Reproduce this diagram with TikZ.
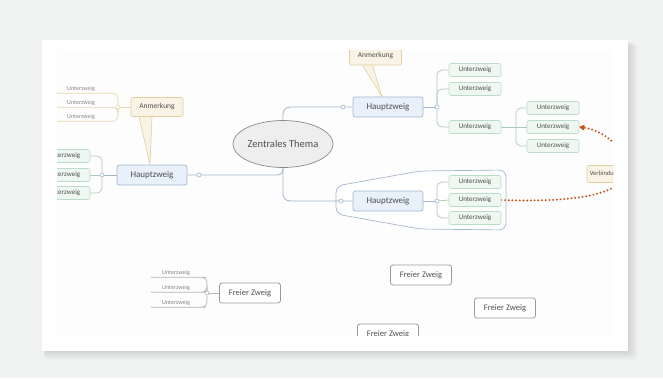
\documentclass[tikz,border=0pt]{standalone}
\usepackage{fontspec}
\setmainfont{Carlito}
\usetikzlibrary{arrows.meta,shapes.geometric}
\pgfdeclarelayer{bg}
\pgfdeclarelayer{edges}
\pgfsetlayers{bg,edges,main}

\definecolor{bgc}{HTML}{F1F2F2}
\definecolor{canvas}{HTML}{FDFDFD}
\definecolor{hzf}{HTML}{E8F0FA}
\definecolor{hzb}{HTML}{A3B8D0}
\definecolor{uzf}{HTML}{EEF7F1}
\definecolor{uzb}{HTML}{BCDCC8}
\definecolor{anf}{HTML}{F8F3E4}
\definecolor{anb}{HTML}{E0D09E}
\definecolor{frb}{HTML}{9A9A9A}
\definecolor{ctf}{HTML}{EEEEEE}
\definecolor{ctb}{HTML}{8A8A8A}
\definecolor{conn}{HTML}{A2B4CA}
\definecolor{subc}{HTML}{AFC8BA}
\definecolor{notec}{HTML}{E3D7AD}
\definecolor{leafc}{HTML}{B4B4B4}
\definecolor{rel}{HTML}{C2561E}
\definecolor{txt}{HTML}{505050}

\begin{document}
\begin{tikzpicture}[x=1pt,y=-1pt,
  every node/.style={text=txt,inner sep=0pt},
  central/.style={ellipse,draw=ctb,fill=ctf,line width=0.7pt,minimum width=93pt,minimum height=47pt,font=\fontsize{10.5}{11}\selectfont},
  mainbox/.style={draw=hzb,fill=hzf,line width=0.7pt,rounded corners=2.5pt,minimum width=70pt,minimum height=20pt,font=\fontsize{9}{10}\selectfont},
  subbox/.style={draw=uzb,fill=uzf,line width=0.6pt,rounded corners=2pt,minimum width=52pt,minimum height=13pt,font=\fontsize{7}{8}\selectfont},
  notebox/.style={draw=anb,fill=anf,line width=0.6pt,rounded corners=2pt,minimum width=52pt,minimum height=19pt,font=\fontsize{7.5}{8}\selectfont},
  freebox/.style={draw=frb,fill=white,line width=0.8pt,rounded corners=2.5pt,minimum width=61pt,minimum height=20pt,font=\fontsize{8.5}{9}\selectfont},
  leaf/.style={minimum width=50pt,minimum height=8pt,text=txt!70,font=\fontsize{6}{7}\selectfont},
  knob/.style={circle,draw=#1,fill=white,line width=0.6pt,minimum size=4pt},
  knob/.default=conn,
  conn/.style={draw=conn,line width=0.8pt},
  subconn/.style={draw=subc,line width=0.7pt,rounded corners=5pt},
  noteconn/.style={draw=notec,line width=0.7pt,rounded corners=5pt},
  leafconn/.style={draw=leafc,line width=0.7pt,rounded corners=5pt},
  tail/.style={fill=anf,draw=anb,line width=0.6pt,line join=round},
  relation/.style={draw=rel,line width=2.2pt,line cap=round,dash pattern=on 0pt off 3.7pt,
    -{Latex[length=6.5pt,width=6.5pt,round]}}
]
\useasboundingbox (0,0) rectangle (663,378);

% page, card with soft shadow, canvas
\begin{pgfonlayer}{bg}
  \fill[bgc] (0,0) rectangle (663,378);
  \foreach \s in {1,...,10}
    \fill[black,opacity=0.011,rounded corners=3pt] (42+\s*0.3,40+\s*0.5) rectangle (628+\s,351+\s*0.9);
  \fill[white] (42,40) rectangle (628,351);
  \fill[canvas] (57,50) rectangle (613,335);
\end{pgfonlayer}

\begin{scope}
\clip (57,50) rectangle (613,335);

% central topic
\node[central] (ct) at (283,144) {Zentrales Thema};

% main branches
\node[mainbox] (hzR) at (388,107) {Hauptzweig};
\node[mainbox] (hzB) at (388,201) {Hauptzweig};
\node[mainbox] (hzL) at (152,175) {Hauptzweig};

% notes
\node[notebox] (anT) at (375.5,55.5) {Anmerkung};
\node[notebox] (anL) at (157,107) {Anmerkung};

% sub branches, upper right
\node[subbox] (uR1) at (475,70) {Unterzweig};
\node[subbox] (uR2) at (475,89) {Unterzweig};
\node[subbox] (uR3) at (475,127) {Unterzweig};
\node[subbox] (uS1) at (553,108) {Unterzweig};
\node[subbox] (uS2) at (553,127) {Unterzweig};
\node[subbox] (uS3) at (553,146) {Unterzweig};

% sub branches, lower right
\node[subbox] (uB1) at (475,182) {Unterzweig};
\node[subbox] (uB2) at (475,200) {Unterzweig};
\node[subbox] (uB3) at (475,218) {Unterzweig};

% sub branches, left
\node[subbox] (uL1) at (64,156) {Unterzweig};
\node[subbox] (uL2) at (64,175) {Unterzweig};
\node[subbox] (uL3) at (64,193) {Unterzweig};

% children of the left note
\node[leaf] (lA1) at (81,89) {Unterzweig};
\node[leaf] (lA2) at (81,103) {Unterzweig};
\node[leaf] (lA3) at (81,117) {Unterzweig};

% free branches
\node[freebox] (fz1) at (250,293) {Freier Zweig};
\node[freebox] (fz2) at (421,275) {Freier Zweig};
\node[freebox] (fz3) at (505,308) {Freier Zweig};
\node[freebox] (fz4) at (388,334) {Freier Zweig};
\node[leaf] (lF1) at (176,273) {Unterzweig};
\node[leaf] (lF2) at (176,288) {Unterzweig};
\node[leaf] (lF3) at (176,303) {Unterzweig};

% collapse knobs
\node[knob] (kR) at (437,107) {};
\node[knob] (kB) at (437,201) {};
\node[knob] (kL) at (102,175) {};
\node[knob] (kC) at (199,175) {};
\node[knob] (kT) at (343,107) {};
\node[knob] (kD) at (341,201) {};
\node[knob=notec] (kA) at (118,107) {};
\node[knob=leafc] (kF) at (207,293) {};
\coordinate (jR3) at (516,127);

% relationship label
\node[draw=anb,fill=anf,line width=0.6pt,rounded corners=2pt,minimum width=36pt,minimum height=17pt,
      font=\fontsize{6.5}{7}\selectfont] (vb) at (605,174) {Verbindung};
\end{scope}

\begin{pgfonlayer}{edges}
\begin{scope}
\clip (57,50) rectangle (613,335);

% boundary around the lower main branch
\draw[draw=hzb,line width=0.7pt,fill=white,fill opacity=0.5,rounded corners=7pt]
  (336,200) -- (336,214) -- (420,229) -- (506,230) -- (506,170) -- (420,171) -- (336,186) -- cycle;

% central topic to main branches
\draw[conn,rounded corners=7pt] (ct.north) |- (hzR.west);
\draw[conn,rounded corners=7pt] (ct.south) |- (hzB.west);
\draw[conn,rounded corners=5pt] (ct.south) |- (hzL.east);

% main branches to sub branches
\draw[conn] (hzR.east) -- (kR);
\draw[subconn] (kR) |- (uR1.west);
\draw[subconn] (kR) |- (uR2.west);
\draw[subconn] (kR) |- (uR3.west);
\draw[subconn] (uR3.east) -- (jR3);
\draw[subconn] (jR3) |- (uS1.west);
\draw[subconn] (jR3) -- (uS2.west);
\draw[subconn] (jR3) |- (uS3.west);

\draw[conn] (hzB.east) -- (kB);
\draw[subconn] (kB) |- (uB1.west);
\draw[subconn] (kB) -- (uB2.west);
\draw[subconn] (kB) |- (uB3.west);

\draw[conn] (hzL.west) -- (kL);
\draw[subconn] (kL) |- (uL1.east);
\draw[subconn] (kL) -- (uL2.east);
\draw[subconn] (kL) |- (uL3.east);

% note children, underlined
\draw[noteconn] (anL.west) -- (kA);
\draw[noteconn] (kA) |- (lA1.south east) -- ++(-60,0);
\draw[noteconn] (kA) |- (lA2.south east) -- ++(-60,0);
\draw[noteconn] (kA) |- (lA3.south east) -- ++(-60,0);

% free branch children, underlined
\draw[leafconn] (fz1.west) -- (kF);
\draw[leafconn] (kF) |- (lF1.south east) -- (lF1.south west);
\draw[leafconn] (kF) |- (lF2.south east) -- (lF2.south west);
\draw[leafconn] (kF) |- (lF3.south east) -- (lF3.south west);

% callout tails of the notes
\draw[tail] ([xshift=-18pt]anL.south) -- ([xshift=-2pt]hzL.north) -- ([xshift=-5pt]anL.south);
\draw[tail] ([xshift=-13pt]anT.south) -- ([xshift=-6pt]hzR.north) -- ([xshift=-3pt]anT.south);

% relationship between two sub branches
\draw[relation] (uB2.east) .. controls (585,203) and (628,192) .. (626,168)
  .. controls (624,146) and (602,130) .. (uS2.east);
\end{scope}
\end{pgfonlayer}
\end{tikzpicture}
\end{document}
